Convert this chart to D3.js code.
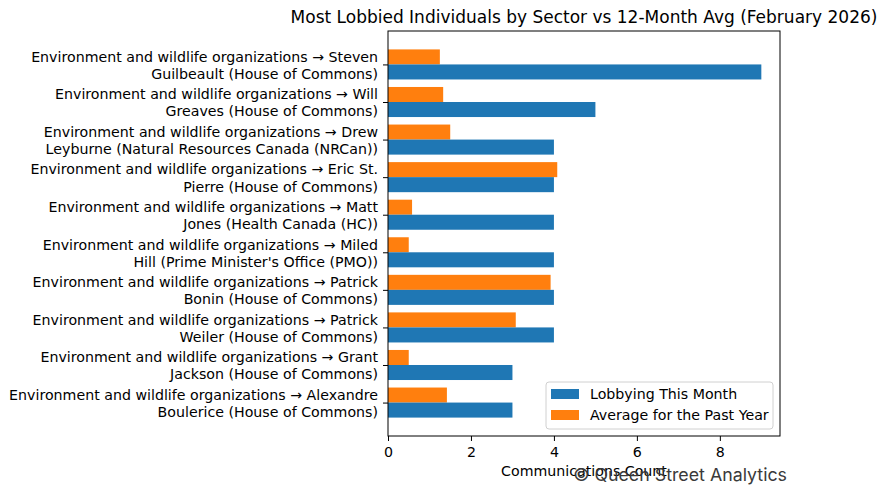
<!DOCTYPE html>
<html lang="en">
<head>
<meta charset="UTF-8">
<title>Most Lobbied Individuals by Sector vs 12-Month Avg</title>
<script src="https://d3js.org/d3.v7.min.js"></script>
<style type="text/css">
  body { margin: 0; background: #fff; }
  text { font-family: "DejaVu Sans", sans-serif; fill: #000; }
</style>
</head>
<body>
<script type="text/javascript">

// data
var sector = "Environment and wildlife organizations";
var labelLine1 = [
  sector + " \u2192 Steven",
  sector + " \u2192 Will",
  sector + " \u2192 Drew",
  sector + " \u2192 Eric St.",
  sector + " \u2192 Matt",
  sector + " \u2192 Miled",
  sector + " \u2192 Patrick",
  sector + " \u2192 Patrick",
  sector + " \u2192 Grant",
  sector + " \u2192 Alexandre"
];
var labelLine2 = [
  "Guilbeault (House of Commons)",
  "Greaves (House of Commons)",
  "Leyburne (Natural Resources Canada (NRCan))",
  "Pierre (House of Commons)",
  "Jones (Health Canada (HC))",
  "Hill (Prime Minister's Office (PMO))",
  "Bonin (House of Commons)",
  "Weiler (House of Commons)",
  "Jackson (House of Commons)",
  "Boulerice (House of Commons)"
];
var thisMonth = [9, 5, 4, 4, 4, 4, 4, 4, 3, 3];
var pastYearAvg = [1.25, 1.33, 1.5, 4.08, 0.58, 0.5, 3.92, 3.08, 0.5, 1.42];
var xTicks = [0, 2, 4, 6, 8];
var seriesNames = ["Lobbying This Month", "Average for the Past Year"];
var seriesColors = ["#1f77b4", "#ff7f0e"];

var w = 887, h = 496;
var mLeft = 388, mRight = 780, mTop = 31, mBottom = 436;
var barH = 0.4;
var fs = "14.2px";

var svg = d3.select("body").append("svg")
  .attr("width", w)
  .attr("height", h);

var n = thisMonth.length;
var pad = 0.05 * (n - 1 + 2 * barH);
var y = d3.scaleLinear().domain([-barH - pad, n - 1 + barH + pad]).range([mTop, mBottom]);
var x = d3.scaleLinear().domain([0, d3.max(thisMonth) * 1.05]).range([mLeft, mRight]);

// orange bars (above the tick), blue bars (below)
svg.append("g").selectAll("rect")
  .data(pastYearAvg)
  .enter().append("rect")
  .attr("x", x(0))
  .attr("y", function(d, i) { return y(i - barH); })
  .attr("width", function(d) { return x(d) - x(0); })
  .attr("height", y(barH) - y(0))
  .attr("fill", seriesColors[1]);

svg.append("g").selectAll("rect")
  .data(thisMonth)
  .enter().append("rect")
  .attr("x", x(0))
  .attr("y", function(d, i) { return y(i); })
  .attr("width", function(d) { return x(d) - x(0); })
  .attr("height", y(barH) - y(0))
  .attr("fill", seriesColors[0]);

// frame
svg.append("rect")
  .attr("x", mLeft).attr("y", mTop)
  .attr("width", mRight - mLeft).attr("height", mBottom - mTop)
  .attr("fill", "none").attr("stroke", "#000").attr("stroke-width", 1);

// x axis
var xAxis = svg.append("g")
  .attr("transform", "translate(0," + mBottom + ")")
  .call(d3.axisBottom(x).tickValues(xTicks).tickSize(5).tickPadding(5.5).tickFormat(d3.format("d")));
xAxis.select(".domain").remove();
xAxis.selectAll("text").style("font-size", fs).style("font-family", "DejaVu Sans");

// y axis ticks + two-line labels
var yAxis = svg.append("g")
  .attr("transform", "translate(" + mLeft + ",0)")
  .call(d3.axisLeft(y).tickValues(d3.range(n)).tickSize(5).tickFormat(""));
yAxis.select(".domain").remove();

var lab = svg.append("g").selectAll("text")
  .data(d3.range(n))
  .enter().append("text")
  .attr("x", mLeft - 10)
  .attr("y", function(i) { return y(i); })
  .attr("text-anchor", "end")
  .style("font-size", fs);
lab.append("tspan")
  .attr("x", mLeft - 10)
  .attr("dy", "-0.19em")
  .text(function(i) { return labelLine1[i]; });
lab.append("tspan")
  .attr("x", mLeft - 10)
  .attr("dy", "1.21em")
  .text(function(i) { return labelLine2[i]; });

// title
svg.append("text")
  .attr("x", (mLeft + mRight) / 2)
  .attr("y", 23)
  .attr("text-anchor", "middle")
  .style("font-size", "17px")
  .text("Most Lobbied Individuals by Sector vs 12-Month Avg (February 2026)");

// x label
svg.append("text")
  .attr("x", (mLeft + mRight) / 2)
  .attr("y", 476)
  .attr("text-anchor", "middle")
  .style("font-size", fs)
  .text("Communications Count");

// legend
var lg = svg.append("g").attr("transform", "translate(546,382)");
lg.append("rect")
  .attr("width", 227).attr("height", 47)
  .attr("rx", 3)
  .attr("fill", "#fff").attr("fill-opacity", 0.8)
  .attr("stroke", "#d0d0d0");
seriesNames.forEach(function(s, i) {
  lg.append("rect")
    .attr("x", 5).attr("y", 7 + i * 21)
    .attr("width", 28).attr("height", 10)
    .attr("fill", seriesColors[i]);
  lg.append("text")
    .attr("x", 44).attr("y", 12 + i * 21)
    .attr("dy", "0.35em")
    .style("font-size", fs)
    .text(s);
});

// watermark
svg.append("text")
  .attr("x", 787)
  .attr("y", 481)
  .attr("text-anchor", "end")
  .style("font-family", "Inter, sans-serif")
  .style("font-size", "17.8px")
  .style("fill", "#3a3a3a")
  .text("\u00a9 Queen Street Analytics");

</script>
</body>
</html>
